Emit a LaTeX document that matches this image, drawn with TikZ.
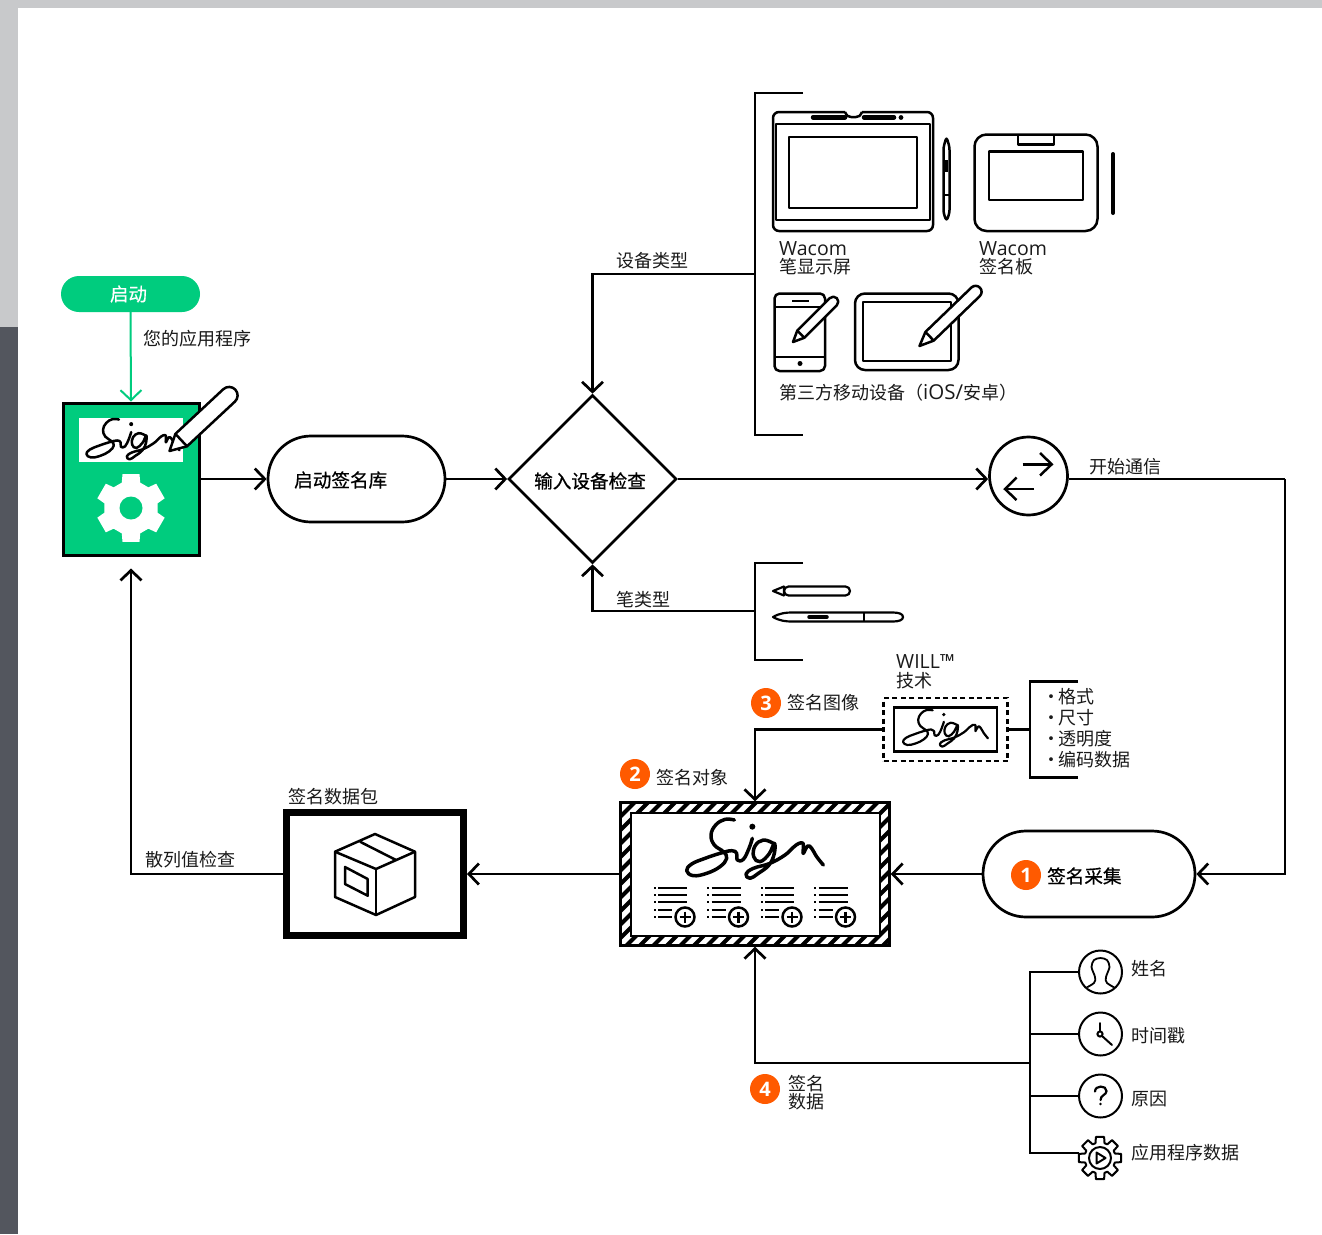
\documentclass[tikz,border=0pt]{standalone}
\usepackage{fontspec}
\setmainfont{Noto Sans CJK SC}
\newfontfamily\latinfont{Open Sans}
\newfontfamily\medfont[FakeBold=0.6]{Noto Sans CJK SC}
\usetikzlibrary{arrows.meta,shapes.geometric}
\definecolor{wgreen}{HTML}{00CC7E}
\definecolor{worange}{HTML}{FF5A00}
\definecolor{wlight}{HTML}{C8C9CB}
\definecolor{wdark}{HTML}{53565E}
\definecolor{wtext}{HTML}{1A1A1A}
\newcommand{\mysign}[4]{%
  \begin{scope}[shift={(#1,#2)},scale=#3,shift={(-240,-120)}]
    \draw[line width=#4,line cap=round,line join=round]
      plot[smooth,tension=0.7] coordinates {(178,30)(150,28)(122,45)(108,75)(118,105)(145,125)(155,145)(135,170)(95,190)(55,197)(35,182)(50,162)(90,145)(135,130)(170,122)(185,130)(187,150)(205,148)(222,115)(232,85)};
    \draw[line width=#4,line cap=round,line join=round]
      plot[smooth,tension=0.7] coordinates {(295,100)(265,90)(240,108)(236,140)(255,155)(282,132)(298,100)(298,130)(282,165)(250,190)(225,205)(213,192)(235,175)(285,160)(330,135)(355,112)(372,100)(384,100)(385,115)(385,130)(398,108)(410,115)(425,140)(445,165)};
    \fill (232,50) circle (9);
  \end{scope}}
\newcommand{\mypen}[6]{%
  \begin{scope}[shift={(#1,#2)},rotate=#3]
    \draw[fill=white,line width=2.5pt,line join=round]
      (0,0) -- (#6,-#5) [rounded corners=#5pt] -- (#4,-#5) -- (#4,#5) [sharp corners] -- (#6,#5) -- cycle;
    \draw[line width=2.5pt] (#6,-#5) -- (#6,#5);
  \end{scope}}
\newcommand{\myfield}[1]{%
  \begin{scope}[shift={(#1,0)}]
    \foreach \yy in {888,895,902} {
      \fill (653.5,\yy-1) rectangle (655.5,\yy+1);
      \draw[line width=2.5pt] (658,\yy) -- (687,\yy);
    }
    \foreach \yy in {910,917} {
      \fill (653.5,\yy-1) rectangle (655.5,\yy+1);
      \draw[line width=2.5pt] (658,\yy) -- (672,\yy);
    }
    \draw[line width=2.5pt,fill=white] (685,917) circle (9.5);
    \draw[line width=2.5pt] (679.5,917) -- (690.5,917) (685,911.5) -- (685,922.5);
  \end{scope}}
\newcommand{\mydot}{\makebox[16pt][l]{·}}
\tikzset{
  x=1pt,y=-1pt,
  conn/.style={line width=2.7pt,-{Straight Barb[length=10pt,width=21pt,line width=2.7pt]}},
  plainline/.style={line width=2.7pt},
  bracket/.style={line width=2.7pt},
  lbl/.style={anchor=west,inner sep=0pt,yshift=-1pt,text=wtext,font=\fontsize{18}{20}\selectfont},
  latinlbl/.style={anchor=west,inner sep=0pt,yshift=-1pt,text=wtext,font=\latinfont\fontsize{19.5}{20}\selectfont},
  boldlbl/.style={anchor=west,inner sep=0pt,text=black,font=\medfont\fontsize{18.6}{20}\selectfont},
  pill/.style={draw,line width=2.7pt,fill=white,rectangle,rounded corners=43pt,minimum height=86pt},
  numdot/.style={circle,fill=worange,text=white,inner sep=0pt,minimum size=30pt,font=\latinfont\bfseries\fontsize{20}{20}\selectfont},
  iconring/.style={circle,draw,line width=2pt,fill=white,inner sep=0pt,minimum size=43pt},
  thinicon/.style={line width=2pt,line cap=round,line join=round},
  iconline/.style={line width=2.5pt,line join=round},
}
\begin{document}
\begin{tikzpicture}
\useasboundingbox (0,0) rectangle (1322,1234);
% page background
\fill[white] (0,0) rectangle (1322,1234);
\fill[wlight] (0,0) rectangle (1322,8);
\fill[wlight] (0,0) rectangle (18,327);
\fill[wdark] (0,327) rectangle (18,1234);

% main flow nodes
\node[rectangle,rounded corners=18pt,fill=wgreen,minimum width=139pt,minimum height=36pt,inner sep=0pt,text=white,font=\medfont\fontsize{18.5}{20}\selectfont] (start) at (130.5,294) {\hspace*{-4pt}启动};
\node[rectangle,draw,line width=3pt,fill=wgreen,minimum width=136pt,minimum height=152pt,inner sep=0pt] (app) at (131,479) {};
\node[pill,minimum width=177pt] (lib) at (356.5,479) {};
\node[boldlbl] (libt) at (294,480) {启动签名库};
\node[diamond,draw,line width=2.7pt,fill=white,aspect=1,minimum size=168pt,inner sep=0pt] (check) at (592.5,479) {};
\node[boldlbl] (checkt) at (534,481) {输入设备检查};
\node[circle,draw,line width=2.7pt,fill=white,minimum size=78pt,inner sep=0pt] (comm) at (1028.5,476) {};
\node[pill,minimum width=212pt] (cap) at (1089,874) {};
\node[numdot] (n1) at (1026,875) {1};
\node[boldlbl] (capt) at (1047,876) {签名采集};
\node[rectangle,draw,line width=2.5pt,minimum width=269pt,minimum height=143pt,inner sep=0pt] (sigobj) at (755,874) {};
\node[rectangle,draw,line width=7pt,fill=white,minimum width=177pt,minimum height=123pt,inner sep=0pt] (pkg) at (375,874) {};
\node[rectangle,draw,line width=2.5pt,dash pattern=on 5pt off 3.5pt,minimum width=124pt,minimum height=63pt,inner sep=0pt] (dashbox) at (945.5,729.5) {};
\node[rectangle,draw,line width=2.5pt,fill=white,minimum width=103pt,minimum height=44pt,inner sep=0pt] (sigimg) at (945.5,729.5) {};

% coordinates on brackets
\coordinate (devbr) at (755,274);
\coordinate (penbr) at (755,611);
\coordinate (attrbr) at (1030,729.5);
\coordinate (databr) at (1030,1063);
\coordinate (corner) at (1285,479);

% connectors
\draw[line width=2pt,wgreen,-{Straight Barb[length=10pt,width=21pt,line width=2pt]}] (start.south) -- (app.north);
\draw[conn] (app.east) -- (lib.west);
\draw[conn] (lib.east) -- (check.west);
\draw[conn] (check.east) -- (check.east -| comm.west);
\draw[plainline] (check.east -| comm.east) -- (corner);
\draw[conn] (corner) |- (cap.east);
\draw[conn] (devbr) -| (check.north);
\draw[conn] (penbr) -| (check.south);
\draw[conn] (cap.west) -- (sigobj.east);
\draw[conn] (sigobj.west) -- (pkg.east);
\draw[conn,shorten >=12pt] (pkg.west) -| (app.south);
\draw[conn] (dashbox.west) -| (sigobj.north);
\draw[plainline] (dashbox.east) -- (attrbr);
\draw[conn] (databr) -| (sigobj.south);

% app box content
\fill[white] (79,418) rectangle (183,462);
\mysign{133}{440}{0.227}{2.5pt}
\mypen{169.5}{451}{43}{90}{8.5}{16}
\begin{scope}[shift={(131,508)}]
  \fill[white] (90-20:27) -- (90-14:35) -- (90+14:35) -- (90+20:27)
    -- (150-20:27) -- (150-14:35) -- (150+14:35) -- (150+20:27)
    -- (210-20:27) -- (210-14:35) -- (210+14:35) -- (210+20:27)
    -- (270-20:27) -- (270-14:35) -- (270+14:35) -- (270+20:27)
    -- (330-20:27) -- (330-14:35) -- (330+14:35) -- (330+20:27)
    -- (30-20:27) -- (30-14:35) -- (30+14:35) -- (30+20:27) -- cycle;
  \fill[wgreen] (0,0) circle (11.5);
\end{scope}

% devices bracket
\draw[bracket] (803,93) -- (755,93) -- (755,435) -- (803,435);
% pen display
\draw[iconline,rounded corners=6pt] (845,112) -- (773,112) -- (773,231) -- (933,231) -- (933,112) -- (862,112);
\draw[iconline] (845,112) .. controls (847,116) and (848,117) .. (851,117) -- (856,117) .. controls (859,117) and (860,116) .. (862,112);
\draw[iconline] (776,124) rectangle (930,220);
\draw[iconline] (789,137) rectangle (917,208);
\draw[line width=4.5pt,line cap=round] (813,117.3) -- (845,117.3) (864,117.3) -- (894,117.3);
\fill (901,117.5) circle (2.4);
\draw[iconline,rounded corners=3pt] (946.5,137) -- (949.5,147) -- (949.5,213) -- (946.5,221) -- (943.5,213) -- (943.5,147) -- cycle;
\draw[line width=3pt] (946.5,160) -- (946.5,172);
\draw[line width=2pt] (943.5,195) -- (949.5,195);
% signature tablet
\draw[iconline,rounded corners=12pt] (974.5,134.5) rectangle (1097.5,231);
\draw[iconline] (1018,135) -- (1018,144.5) -- (1054,144.5) -- (1054,135);
\draw[iconline] (989,151.5) rectangle (1083,200);
\draw[line width=4pt,line cap=round] (1113,154) -- (1113,213);
% labels
\node[latinlbl] (wac1) at (779,248) {Wacom};
\node[lbl] (disp) at (779,266) {笔显示屏};
\node[latinlbl] (wac2) at (979,248) {Wacom};
\node[lbl] (tabl) at (979,266) {签名板};
% phone
\draw[iconline,rounded corners=5pt] (774.5,293.5) rectangle (825,371);
\draw[iconline] (774.5,307) -- (825,307) (774.5,357) -- (825,357);
\draw[iconline] (792,301) -- (809,301);
\fill (800,363.5) circle (2.5);
\mypen{793}{342}{45}{62}{5}{11}
% tablet
\draw[iconline,rounded corners=10pt] (855,293.5) rectangle (958.5,370);
\draw[iconline] (863,302) rectangle (951,361);
\mypen{919.5}{346}{44}{84}{6}{14}
\node[lbl] (mob) at (779,392) {第三方移动设备（{\latinfont\fontsize{20.5}{20}\selectfont iOS/}安卓）};

% pens bracket
\draw[bracket] (803,563) -- (755,563) -- (755,660) -- (803,660);
\draw[line width=2.2pt,line join=round,rounded corners=4.5pt] (784,591) -- (784,586.5) -- (850,586.5) -- (850,595.5) -- (784,595.5) -- cycle;
\draw[line width=2.2pt,line join=round] (784,586.5) -- (773,591) -- (784,595.5);
\draw[line width=2.2pt,line join=round] (773,617) .. controls (780,613) and (786,612.5) .. (792,612.5) -- (893,612.5) .. controls (899,612.5) and (903,614) .. (903,617) .. controls (903,620) and (899,621.5) .. (893,621.5) -- (792,621.5) .. controls (786,621.5) and (780,621) .. cycle;
\draw[line width=3.5pt,line cap=round] (809,617) -- (827,617);
\draw[line width=2.2pt] (864,612.5) -- (864,621.5);

% comm arrows
\draw[line width=2.5pt,line join=miter] (1022.7,464.3) -- (1051.7,464.3);
\draw[line width=2.5pt] (1040,453) -- (1051.7,464.3) -- (1040,475.5);
\draw[line width=2.5pt] (1034,489) -- (1005,489);
\draw[line width=2.5pt] (1016.5,477.5) -- (1005,489) -- (1016.5,500);

% WILL block
\mysign{945.5}{729}{0.207}{2.2pt}
\draw[bracket] (1078,681.5) -- (1030,681.5) -- (1030,777.5) -- (1078,777.5);

% signature object
\begin{scope}[even odd rule]
  \clip (620,802) rectangle (890,946) (631,813) rectangle (880,936);
  \foreach \xx in {460,473.5,...,900} \draw[line width=4pt] (\xx,950) -- (\xx+160,790);
\end{scope}
\draw[line width=2.5pt] (631,813) rectangle (880,936);
\mysign{755}{850}{0.3333}{3.5pt}
\myfield{0}\myfield{53.5}\myfield{107}\myfield{160.5}

% package icon
\draw[iconline] (375,834) -- (335,851.7) -- (335,897) -- (376,915) -- (415,897) -- (415,851.7) -- cycle;
\draw[iconline] (335,851.7) -- (376,869) -- (415,851.7);
\draw[iconline] (376,869) -- (376,915);
\draw[iconline] (360,841.7) -- (396,860);
\draw[iconline] (345,867) -- (367.7,879) -- (367.7,895.7) -- (345,884) -- cycle;

% labels on main flow
\node[lbl] (lapp) at (143,338) {您的应用程序};
\node[lbl] (ldev) at (616,260) {设备类型};
\node[lbl] (lpen) at (616,599) {笔类型};
\node[lbl] (lcomm) at (1089,466) {开始通信};
\node[lbl] (lpkg) at (288,796) {签名数据包};
\node[lbl] (lhash) at (145,859) {散列值检查};
\node[numdot] (n3) at (766,703) {3};
\node[lbl] (limg) at (787,702) {签名图像};
\node[numdot] (n2) at (635,774) {2};
\node[lbl] (lobj) at (656,777) {签名对象};
\node[numdot] (n4) at (765,1089) {4};
\node[lbl] (ldata1) at (788,1083) {签名};
\node[lbl] (ldata2) at (788,1101) {数据};
\node[latinlbl] (lwill) at (896,661) {WILL™};
\node[lbl] (ltech) at (896,679.5) {技术};
\node[lbl] (a1) at (1042,696) {\mydot 格式};
\node[lbl] (a2) at (1042,717) {\mydot 尺寸};
\node[lbl] (a3) at (1042,738) {\mydot 透明度};
\node[lbl] (a4) at (1042,759) {\mydot 编码数据};

% data tree
\node[iconring] (iname) at (1100.5,972) {};
\node[iconring] (itime) at (1100.5,1034) {};
\node[iconring] (ireason) at (1100.5,1096) {};
\coordinate (igear) at (1079,1153);
\draw[bracket] (iname.west) -- (1030,972) -- (1030,1153) -- (igear);
\draw[bracket] (itime.west) -- (1030,1034);
\draw[bracket] (ireason.west) -- (1030,1096);
% person
\begin{scope}
  \clip (1100.5,972) circle (20.5);
  \draw[line width=1.8pt,line join=round] plot[smooth,tension=0.5] coordinates {(1082,990)(1094,983)(1095,977)(1091.5,967)(1094,960)(1100.5,958)(1107,960)(1109.5,967)(1106,977)(1107,983)(1119,990)};
\end{scope}
% clock
\draw[thinicon] (1100,1023) -- (1100,1031);
\draw[thinicon] (1102,1036) -- (1112,1045);
\draw[thinicon] (1100,1034) circle (2.6);
% question
\draw[line width=2.2pt,line cap=round] (1095,1091.5) .. controls (1095,1085) and (1106.5,1085) .. (1106.5,1091) .. controls (1106.5,1095) and (1100.5,1095) .. (1100.5,1100);
\fill (1100.5,1104) circle (1.3);
% gear
\begin{scope}[shift={(1100,1158)}]
  \draw[line width=2pt,line join=round,fill=white]
    (0-17:15.5) -- (0-11:21.5) -- (0+11:21.5) -- (0+17:15.5)
    -- (45-17:15.5) -- (45-11:21.5) -- (45+11:21.5) -- (45+17:15.5)
    -- (90-17:15.5) -- (90-11:21.5) -- (90+11:21.5) -- (90+17:15.5)
    -- (135-17:15.5) -- (135-11:21.5) -- (135+11:21.5) -- (135+17:15.5)
    -- (180-17:15.5) -- (180-11:21.5) -- (180+11:21.5) -- (180+17:15.5)
    -- (225-17:15.5) -- (225-11:21.5) -- (225+11:21.5) -- (225+17:15.5)
    -- (270-17:15.5) -- (270-11:21.5) -- (270+11:21.5) -- (270+17:15.5)
    -- (315-17:15.5) -- (315-11:21.5) -- (315+11:21.5) -- (315+17:15.5) -- cycle;
  \draw[line width=2pt] (0,0) circle (11);
  \draw[line width=2pt,line join=round] (-3.5,-5.5) -- (-3.5,5.5) -- (5.5,0) -- cycle;
\end{scope}
\node[lbl] (tname) at (1131,968) {姓名};
\node[lbl] (ttime) at (1131,1035) {时间戳};
\node[lbl] (treason) at (1131,1098) {原因};
\node[lbl] (tgear) at (1131,1152) {应用程序数据};
\end{tikzpicture}
\end{document}
